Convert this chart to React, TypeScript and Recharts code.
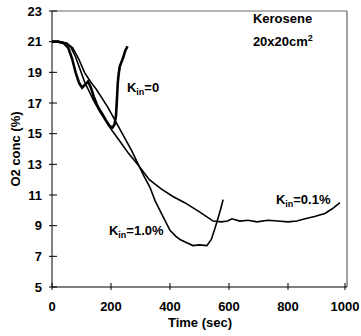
import { LineChart, Line, XAxis, YAxis, ReferenceLine, ReferenceDot } from "recharts";

// axis ticks
const timeTicks = [0, 200, 400, 600, 800, 1000];
const o2Ticks = [5, 7, 9, 11, 13, 15, 17, 19, 21, 23];

// K_in = 0
const k0Time = [0, 20, 40, 55, 68, 80, 92, 102, 112, 122, 132, 142, 152, 160, 170, 182, 195, 205, 212, 217, 220, 223, 226, 230, 236, 242, 248, 256];
const k0O2 = [21.0, 21.0, 20.9, 20.6, 19.9, 19.0, 18.3, 18.0, 18.2, 18.4, 18.0, 17.4, 16.9, 16.6, 16.3, 15.9, 15.5, 15.4, 15.6, 16.2, 17.2, 18.3, 18.9, 19.4, 19.7, 20.0, 20.4, 20.7];

// K_in = 1.0%
const k10Time = [0, 25, 50, 70, 90, 110, 130, 150, 170, 190, 210, 230, 250, 270, 290, 310, 332, 350, 376, 400, 420, 434, 455, 478, 500, 525, 540, 552, 563, 572, 580];
const k10O2 = [21.0, 21.0, 20.9, 20.6, 19.9, 19.0, 18.4, 17.9, 17.3, 16.7, 16.0, 15.3, 14.6, 13.9, 13.1, 12.3, 11.5, 10.6, 9.6, 8.7, 8.3, 8.1, 7.9, 7.7, 7.75, 7.7, 8.1, 8.8, 9.5, 10.1, 10.7];

// K_in = 0.1%
const k01Time = [0, 25, 50, 65, 80, 95, 110, 125, 140, 160, 180, 200, 230, 260, 290, 330, 370, 410, 450, 500, 546, 575, 595, 610, 637, 665, 695, 732, 765, 800, 830, 858, 890, 925, 950, 976];
const k01O2 = [21.0, 21.0, 20.9, 20.6, 20.0, 19.2, 18.4, 17.8, 17.2, 16.5, 15.9, 15.3, 14.5, 13.7, 13.0, 12.0, 11.4, 10.9, 10.5, 9.9, 9.3, 9.25, 9.3, 9.45, 9.3, 9.35, 9.25, 9.35, 9.3, 9.25, 9.3, 9.45, 9.6, 9.8, 10.1, 10.5];

const toPoints = (ts: number[], vs: number[]) => ts.map((t, i) => ({ t, o2: vs[i] }));

const FONT = "'Liberation Sans', Arial, sans-serif";

const YTick = (props: any) => {
  const { x, y, payload } = props;
  return (
    <g>
      <line x1={x - 3} x2={x + 5} y1={y} y2={y} stroke="#000" />
      <text x={x - 10} y={y + 4.5} textAnchor="end" fontFamily={FONT} fontWeight="bold" fontSize={13} fill="#000">
        {payload.value}
      </text>
    </g>
  );
};

const XTick = (props: any) => {
  const { x, y, payload } = props;
  return (
    <g>
      <line x1={x} x2={x} y1={y - 4} y2={y + 3} stroke="#000" />
      <text x={x} y={y + 24} textAnchor="middle" fontFamily={FONT} fontWeight="bold" fontSize={13} fill="#000">
        {payload.value}
      </text>
    </g>
  );
};

// text anchored at a data point
const tag = (parts: (cx: number, cy: number) => JSX.Element) => (p: any) => parts(p.cx, p.cy);

const kLabel = (rest: string) =>
  tag((cx, cy) => (
    <text x={cx} y={cy} fontFamily={FONT} fontWeight="bold" fontSize={13} fill="#000">
      K
      <tspan dy={3} fontSize={9}>in</tspan>
      <tspan dy={-3}>{rest}</tspan>
    </text>
  ));

export default function App() {
  return (
    <div style={{ position: "absolute", left: 0, top: 0, background: "#fff" }}>
      <LineChart width={361} height={336} margin={{ top: 11, right: 14, bottom: 0, left: 0 }}>
        <XAxis
          type="number"
          dataKey="t"
          domain={[0, 1000]}
          ticks={timeTicks}
          height={49}
          axisLine={{ stroke: "#000" }}
          tickLine={false}
          tickSize={0}
          tickMargin={0}
          tick={XTick}
          label={{
            content: () => (
              <text x={200} y={327} textAnchor="middle" fontFamily={FONT} fontWeight="bold" fontSize={13} fill="#000">
                Time (sec)
              </text>
            ),
          }}
        />
        <YAxis
          type="number"
          domain={[5, 23]}
          ticks={o2Ticks}
          width={52}
          axisLine={{ stroke: "#000" }}
          tickLine={false}
          tickSize={0}
          tickMargin={0}
          tick={YTick}
          label={{
            content: () => (
              <text
                x={15}
                y={149}
                transform="rotate(-90 15 149)"
                textAnchor="middle"
                dominantBaseline="central"
                fontFamily={FONT}
                fontWeight="bold"
                fontSize={13}
                fill="#000"
              >
                O2 conc (%)
              </text>
            ),
          }}
        />
        <ReferenceLine y={23} stroke="#666" strokeWidth={1} />
        <ReferenceLine x={1000} stroke="#444" strokeWidth={1} />
        <Line data={toPoints(k01Time, k01O2)} dataKey="o2" type="linear" stroke="#000" strokeWidth={1.6} dot={false} isAnimationActive={false} />
        <Line data={toPoints(k10Time, k10O2)} dataKey="o2" type="linear" stroke="#000" strokeWidth={1.6} dot={false} isAnimationActive={false} />
        <Line data={toPoints(k0Time, k0O2)} dataKey="o2" type="linear" stroke="#000" strokeWidth={2.6} dot={false} isAnimationActive={false} />
        <ReferenceDot x={254} y={17.75} r={0} shape={kLabel("=0")} />
        <ReferenceDot x={193} y={8.4} r={0} shape={kLabel("=1.0%")} />
        <ReferenceDot x={759} y={10.4} r={0} shape={kLabel("=0.1%")} />
        <ReferenceDot
          x={681}
          y={22.2}
          r={0}
          shape={tag((cx, cy) => (
            <text x={cx} y={cy} fontFamily={FONT} fontWeight="bold" fontSize={13} fill="#000">
              Kerosene
            </text>
          ))}
        />
        <ReferenceDot
          x={681}
          y={20.7}
          r={0}
          shape={tag((cx, cy) => (
            <text x={cx} y={cy} fontFamily={FONT} fontWeight="bold" fontSize={13} fill="#000">
              20x20cm
              <tspan dy={-5} fontSize={9}>2</tspan>
            </text>
          ))}
        />
      </LineChart>
    </div>
  );
}
